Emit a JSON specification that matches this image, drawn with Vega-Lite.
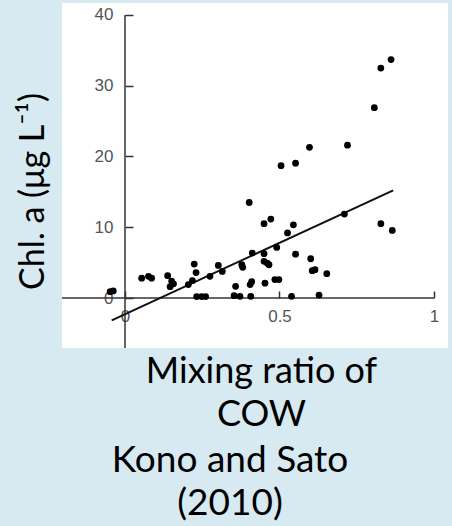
{
  "$schema": "https://vega.github.io/schema/vega-lite/v6.json",
  "width": 386,
  "height": 345,
  "autosize": {"type": "none"},
  "padding": {"left": 62, "top": 3, "right": 4, "bottom": 178},
  "background": "#d7eaf2",
  "config": {
    "view": {"stroke": null, "fill": "white"}
  },
  "title": {
    "text": ["Kono and Sato", "(2010)"],
    "orient": "bottom",
    "anchor": "middle",
    "dx": -25,
    "offset": 11,
    "font": "Lato",
    "fontSize": 37,
    "fontWeight": "normal",
    "color": "black",
    "lineHeight": 43
  },
  "datasets": {
    "points": [
      {"ratio": -0.048, "chla": 0.9},
      {"ratio": -0.038, "chla": 1.0},
      {"ratio": 0.054, "chla": 2.8},
      {"ratio": 0.076, "chla": 3.06},
      {"ratio": 0.086, "chla": 2.8},
      {"ratio": 0.138, "chla": 3.15},
      {"ratio": 0.151, "chla": 2.4},
      {"ratio": 0.157, "chla": 2.0},
      {"ratio": 0.146, "chla": 1.6},
      {"ratio": 0.205, "chla": 1.9},
      {"ratio": 0.218, "chla": 2.45},
      {"ratio": 0.224, "chla": 4.8},
      {"ratio": 0.23, "chla": 3.6},
      {"ratio": 0.232, "chla": 0.2},
      {"ratio": 0.248, "chla": 0.2},
      {"ratio": 0.261, "chla": 0.2},
      {"ratio": 0.275, "chla": 3.06},
      {"ratio": 0.302, "chla": 4.6},
      {"ratio": 0.315, "chla": 3.76},
      {"ratio": 0.358, "chla": 1.65},
      {"ratio": 0.353, "chla": 0.33},
      {"ratio": 0.372, "chla": 0.24},
      {"ratio": 0.378, "chla": 4.7},
      {"ratio": 0.381, "chla": 4.33},
      {"ratio": 0.402, "chla": 13.5},
      {"ratio": 0.405, "chla": 1.9},
      {"ratio": 0.41, "chla": 2.3},
      {"ratio": 0.407, "chla": 0.24},
      {"ratio": 0.412, "chla": 6.35},
      {"ratio": 0.453, "chla": 2.1},
      {"ratio": 0.45, "chla": 10.5},
      {"ratio": 0.472, "chla": 11.15},
      {"ratio": 0.45, "chla": 6.26},
      {"ratio": 0.45, "chla": 5.18},
      {"ratio": 0.46, "chla": 4.94},
      {"ratio": 0.466, "chla": 4.7},
      {"ratio": 0.485, "chla": 2.6},
      {"ratio": 0.498, "chla": 2.6},
      {"ratio": 0.491, "chla": 7.15},
      {"ratio": 0.505, "chla": 18.7},
      {"ratio": 0.526, "chla": 9.2},
      {"ratio": 0.545, "chla": 10.35},
      {"ratio": 0.552, "chla": 19.06},
      {"ratio": 0.552, "chla": 6.2},
      {"ratio": 0.539, "chla": 0.24},
      {"ratio": 0.597, "chla": 21.3},
      {"ratio": 0.601, "chla": 5.55},
      {"ratio": 0.606, "chla": 3.86},
      {"ratio": 0.615, "chla": 4.0},
      {"ratio": 0.653, "chla": 3.43},
      {"ratio": 0.628, "chla": 0.42},
      {"ratio": 0.71, "chla": 11.86},
      {"ratio": 0.72, "chla": 21.6},
      {"ratio": 0.807, "chla": 26.9},
      {"ratio": 0.828, "chla": 32.5},
      {"ratio": 0.861, "chla": 33.7},
      {"ratio": 0.828, "chla": 10.5},
      {"ratio": 0.865, "chla": 9.55}
    ],
    "fit": [
      {"ratio": -0.043, "chla": -3.15},
      {"ratio": 0.868, "chla": 15.2}
    ]
  },
  "layer": [
    {
      "data": {"values": [{}]},
      "mark": {"type": "rule", "color": "#333333", "strokeWidth": 1.5},
      "encoding": {
        "x": {"datum": -0.20388, "type": "quantitative"},
        "x2": {"datum": 1},
        "y": {"datum": 0, "type": "quantitative"}
      }
    },
    {
      "data": {"values": [{}]},
      "mark": {"type": "rule", "color": "#333333", "strokeWidth": 1.5},
      "encoding": {
        "x": {"datum": 0, "type": "quantitative"},
        "y": {"datum": -7.067, "type": "quantitative"},
        "y2": {"datum": 40}
      }
    },
    {
      "data": {"name": "fit"},
      "mark": {"type": "line", "color": "#111111", "strokeWidth": 2},
      "encoding": {
        "x": {"field": "ratio", "type": "quantitative"},
        "y": {"field": "chla", "type": "quantitative"}
      }
    },
    {
      "data": {"name": "points"},
      "mark": {"type": "circle", "color": "#000000", "opacity": 1, "size": 46},
      "encoding": {
        "x": {
          "field": "ratio",
          "type": "quantitative",
          "scale": {"domain": [-0.20388, 1.04531], "nice": false, "zero": false},
          "axis": {
            "values": [0, 0.5, 1],
            "format": "~g",
            "offset": -50,
            "domain": false,
            "grid": false,
            "ticks": true,
            "tickSize": -7,
            "tickWidth": 1.5,
            "tickColor": "#333333",
            "labelPadding": 17,
            "labelBaseline": "top",
            "labelFlush": false,
            "labelOverlap": false,
            "labelFont": "Liberation Sans",
            "labelFontSize": 17,
            "labelColor": "#555555",
            "title": ["Mixing ratio of", "COW"],
            "titleFont": "Lato",
            "titleFontSize": 36,
            "titleFontWeight": "normal",
            "titleColor": "black",
            "titleX": 199,
            "titleY": 84,
            "titleAlign": "center",
            "titleBaseline": "alphabetic",
            "titleLineHeight": 43
          }
        },
        "y": {
          "field": "chla",
          "type": "quantitative",
          "scale": {"domain": [-7.067, 41.696], "nice": false, "zero": false},
          "axis": {
            "values": [0, 10, 20, 30, 40],
            "offset": -63,
            "domain": false,
            "grid": false,
            "ticks": true,
            "tickSize": -8,
            "tickWidth": 1.5,
            "tickColor": "#333333",
            "labelPadding": 20,
            "labelFlush": false,
            "labelOverlap": false,
            "labelFont": "Liberation Sans",
            "labelFontSize": 17,
            "labelColor": "#555555",
            "title": "Chl. a (μg L⁻¹)",
            "titleFont": "Lato",
            "titleFontSize": 34,
            "titleFontWeight": "normal",
            "titleColor": "black",
            "titleAngle": -90,
            "titleX": -82,
            "titleY": 188,
            "titleAlign": "center",
            "titleBaseline": "alphabetic"
          }
        }
      }
    }
  ]
}
